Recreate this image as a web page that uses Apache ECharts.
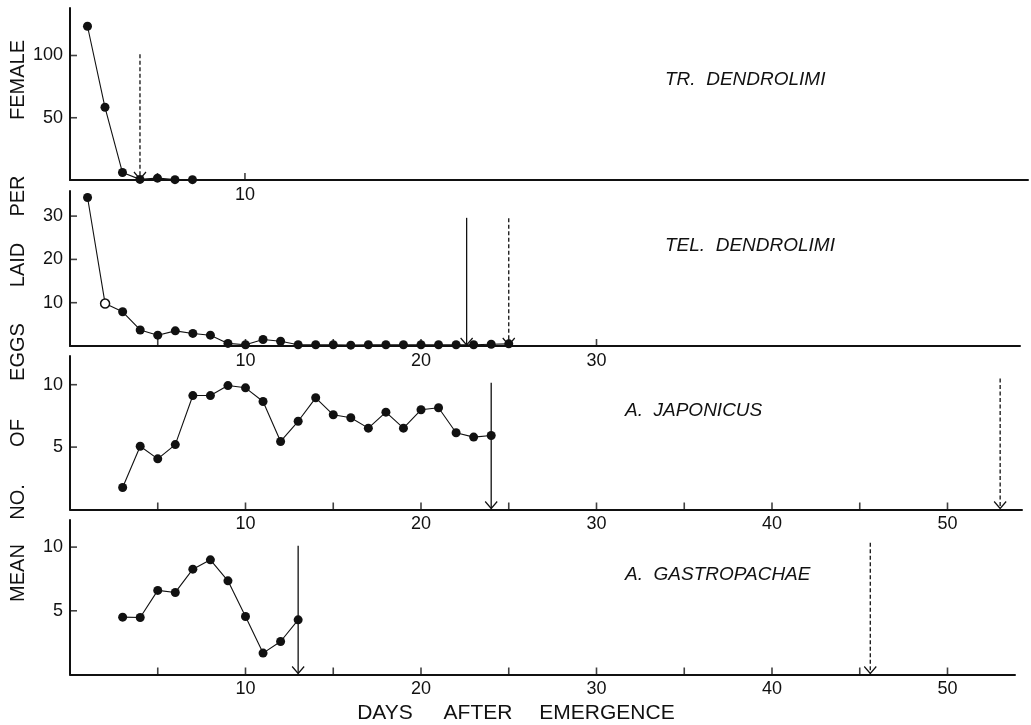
<!DOCTYPE html>
<html>
<head>
<meta charset="utf-8">
<script src="https://cdn.jsdelivr.net/npm/echarts@6/dist/echarts.min.js"></script>
<style>
  html, body { margin: 0; padding: 0; background: #fff; }
  #chart { width: 1031px; height: 725px; }
</style>
</head>
<body>
<div id="chart"></div>
<script>
// Mean number of eggs laid per female, by days after emergence, for four parasitoids.
const trDays  = [1, 2, 3, 4, 5, 6, 7];
const trEggs  = [123.5, 58.4, 6.0, 0.5, 1.5, 0.3, 0.3];

const telDays = [1, 2, 3, 4, 5, 6, 7, 8, 9, 10, 11, 12, 13, 14, 15, 16, 17, 18, 19, 20, 21, 22, 23, 24, 25];
const telEggs = [34.3, 9.8, 7.9, 3.7, 2.5, 3.5, 2.9, 2.5, 0.6, 0.3, 1.5, 1.1, 0.3, 0.3, 0.3, 0.2, 0.3, 0.3, 0.3, 0.3, 0.3, 0.3, 0.3, 0.4, 0.5];
const telOpenDays = [2];   // points drawn as open circles

const japDays = [3, 4, 5, 6, 7, 8, 9, 10, 11, 12, 13, 14, 15, 16, 17, 18, 19, 20, 21, 22, 23, 24];
const japEggs = [1.76, 5.07, 4.06, 5.2, 9.13, 9.13, 9.93, 9.75, 8.65, 5.45, 7.07, 8.95, 7.59, 7.35, 6.52, 7.8, 6.52, 7.99, 8.15, 6.15, 5.8, 5.93];

const gasDays = [3, 4, 5, 6, 7, 8, 9, 10, 11, 12, 13];
const gasEggs = [4.5, 4.47, 6.6, 6.44, 8.27, 9.0, 7.35, 4.55, 1.68, 2.59, 4.29];

// Arrow markers: [day, top of arrow, dashed (1) or solid (0)]
const trMarks  = [[4, 101, 1]];
const telMarks = [[22.6, 29.6, 0], [25, 29.5, 1]];
const japMarks = [[24, 10.16, 0], [53, 10.5, 1]];
const gasMarks = [[13, 10.1, 0], [45.6, 10.35, 1]];

const speciesNames = ['TR.  DENDROLIMI', 'TEL.  DENDROLIMI', 'A.  JAPONICUS', 'A.  GASTROPACHAE'];

// Tick marks and tick labels per panel
const xTickPos = [
  [5, 10],
  [5, 10, 15, 20, 25, 30],
  [5, 10, 15, 20, 25, 30, 35, 40, 45, 50],
  [5, 10, 15, 20, 25, 30, 35, 40, 45, 50]
];
const xTickLabels = [
  [10],
  [10, 20, 30],
  [10, 20, 30, 40, 50],
  [10, 20, 30, 40, 50]
];
const yTickLabels = [
  [50, 100],
  [10, 20, 30],
  [5, 10],
  [5, 10]
];

const yTitleWords = ['MEAN', 'NO.', 'OF', 'EGGS', 'LAID', 'PER', 'FEMALE'];
const xTitleWords = ['DAYS', 'AFTER', 'EMERGENCE'];

// ---- layout ----
const FONT = '"Liberation Sans", Arial, sans-serif';
const INK = '#111';
const PX_PER_DAY = 17.55;
const panels = [
  { top: 8,   height: 172,   width: 961, pxPerUnit: 1.245 },
  { top: 191, height: 155,   width: 950, pxPerUnit: 4.33 },
  { top: 356, height: 153.5, width: 952, pxPerUnit: 12.48 },
  { top: 520, height: 154.5, width: 945, pxPerUnit: 12.74 }
];
const speciesPos = [[665, 81], [665, 247], [625, 412], [625, 576]];
const yTitlePos = [573, 502, 433, 352, 265, 196, 80];
const xTitlePos = [385, 478, 607];

const seriesData = [
  { days: trDays,  eggs: trEggs,  marks: trMarks,  open: [] },
  { days: telDays, eggs: telEggs, marks: telMarks, open: telOpenDays },
  { days: japDays, eggs: japEggs, marks: japMarks, open: [] },
  { days: gasDays, eggs: gasEggs, marks: gasMarks, open: [] }
];

const grid = [], xAxis = [], yAxis = [], series = [];

panels.forEach((p, i) => {
  grid.push({ left: 70, top: p.top, width: p.width, height: p.height, containLabel: false });

  const xLabels = xTickLabels[i];
  xAxis.push({
    type: 'value', gridIndex: i, min: 0, max: p.width / PX_PER_DAY, interval: 5,
    axisLine: { show: true, lineStyle: { color: INK, width: 2 } },
    axisTick: { show: false },
    splitLine: { show: false },
    axisLabel: {
      show: true, margin: 6, color: INK, fontFamily: FONT, fontSize: 18,
      formatter: v => (xLabels.indexOf(v) >= 0 ? String(v) : '')
    }
  });

  const yLabels = yTickLabels[i];
  yAxis.push({
    type: 'value', gridIndex: i, min: 0, max: p.height / p.pxPerUnit,
    interval: yLabels[1] - yLabels[0],
    axisLine: { show: true, lineStyle: { color: INK, width: 2 } },
    axisTick: { show: false },
    splitLine: { show: false },
    axisLabel: {
      show: true, margin: 7, color: INK, fontFamily: FONT, fontSize: 18,
      formatter: v => (yLabels.indexOf(v) >= 0 ? String(v) : '')
    }
  });

  const d = seriesData[i];
  series.push({
    type: 'line', xAxisIndex: i, yAxisIndex: i, clip: false,
    data: d.days.map((day, k) => {
      const item = { value: [day, d.eggs[k]] };
      if (d.open.indexOf(day) >= 0) {
        item.itemStyle = { color: '#fff', borderColor: INK, borderWidth: 1.5 };
      }
      return item;
    }),
    symbol: 'circle', symbolSize: 9, showSymbol: true,
    lineStyle: { color: INK, width: 1.1 },
    itemStyle: { color: INK, borderColor: INK, borderWidth: 0 },
    emphasis: { disabled: true }, silent: true, animation: false, z: 3
  });

  // x-axis tick marks (pointing up into the plot)
  series.push({
    type: 'scatter', xAxisIndex: i, yAxisIndex: i, clip: false,
    data: xTickPos[i].map(v => [v, 0]),
    symbol: 'rect', symbolSize: [1.6, 7], symbolOffset: [0, -3.5],
    itemStyle: { color: INK }, silent: true, animation: false, z: 2
  });

  // y-axis tick marks (pointing right into the plot)
  series.push({
    type: 'scatter', xAxisIndex: i, yAxisIndex: i, clip: false,
    data: yLabels.map(v => [0, v]),
    symbol: 'rect', symbolSize: [7, 1.6], symbolOffset: [3.5, 0],
    itemStyle: { color: INK }, silent: true, animation: false, z: 2
  });

  // end-of-oviposition arrows
  series.push({
    type: 'custom', xAxisIndex: i, yAxisIndex: i, clip: false,
    data: d.marks,
    encode: { x: 0, y: 1 },
    renderItem: (params, api) => {
      const x = api.value(0), top = api.value(1), dashed = api.value(2) === 1;
      const pTop = api.coord([x, top]);
      const pBot = api.coord([x, 0]);
      return {
        type: 'group',
        children: [
          {
            type: 'line',
            shape: { x1: pTop[0], y1: pTop[1], x2: pBot[0], y2: pBot[1] - 1 },
            style: { stroke: INK, lineWidth: 1.3, lineDash: dashed ? [4, 2.5] : null, fill: null }
          },
          {
            type: 'polyline',
            shape: { points: [[pBot[0] - 6, pBot[1] - 8], [pBot[0], pBot[1] - 1], [pBot[0] + 6, pBot[1] - 8]] },
            style: { stroke: INK, lineWidth: 1.2, fill: null }
          }
        ]
      };
    },
    silent: true, animation: false, z: 4
  });
});

const graphic = [];
speciesNames.forEach((name, i) => {
  graphic.push({
    type: 'text', left: speciesPos[i][0], top: speciesPos[i][1] - 11,
    style: {
      text: name, fill: INK,
      font: 'italic 19px ' + FONT
    },
    silent: true
  });
});
yTitleWords.forEach((w, i) => {
  graphic.push({
    type: 'text', x: 18, y: yTitlePos[i], rotation: Math.PI / 2,
    style: {
      text: w, fill: INK, font: '20px ' + FONT,
      align: 'center', verticalAlign: 'middle',
      textAlign: 'center', textVerticalAlign: 'middle'
    },
    silent: true
  });
});
xTitleWords.forEach((w, i) => {
  graphic.push({
    type: 'text', x: xTitlePos[i], y: 713,
    style: {
      text: w, fill: INK, font: '21px ' + FONT,
      align: 'center', verticalAlign: 'middle',
      textAlign: 'center', textVerticalAlign: 'middle'
    },
    silent: true
  });
});

const chart = echarts.init(document.getElementById('chart'), null, { renderer: 'canvas' });
chart.setOption({
  backgroundColor: '#fff',
  animation: false,
  textStyle: { fontFamily: FONT },
  grid, xAxis, yAxis, series, graphic
});
</script>
</body>
</html>
